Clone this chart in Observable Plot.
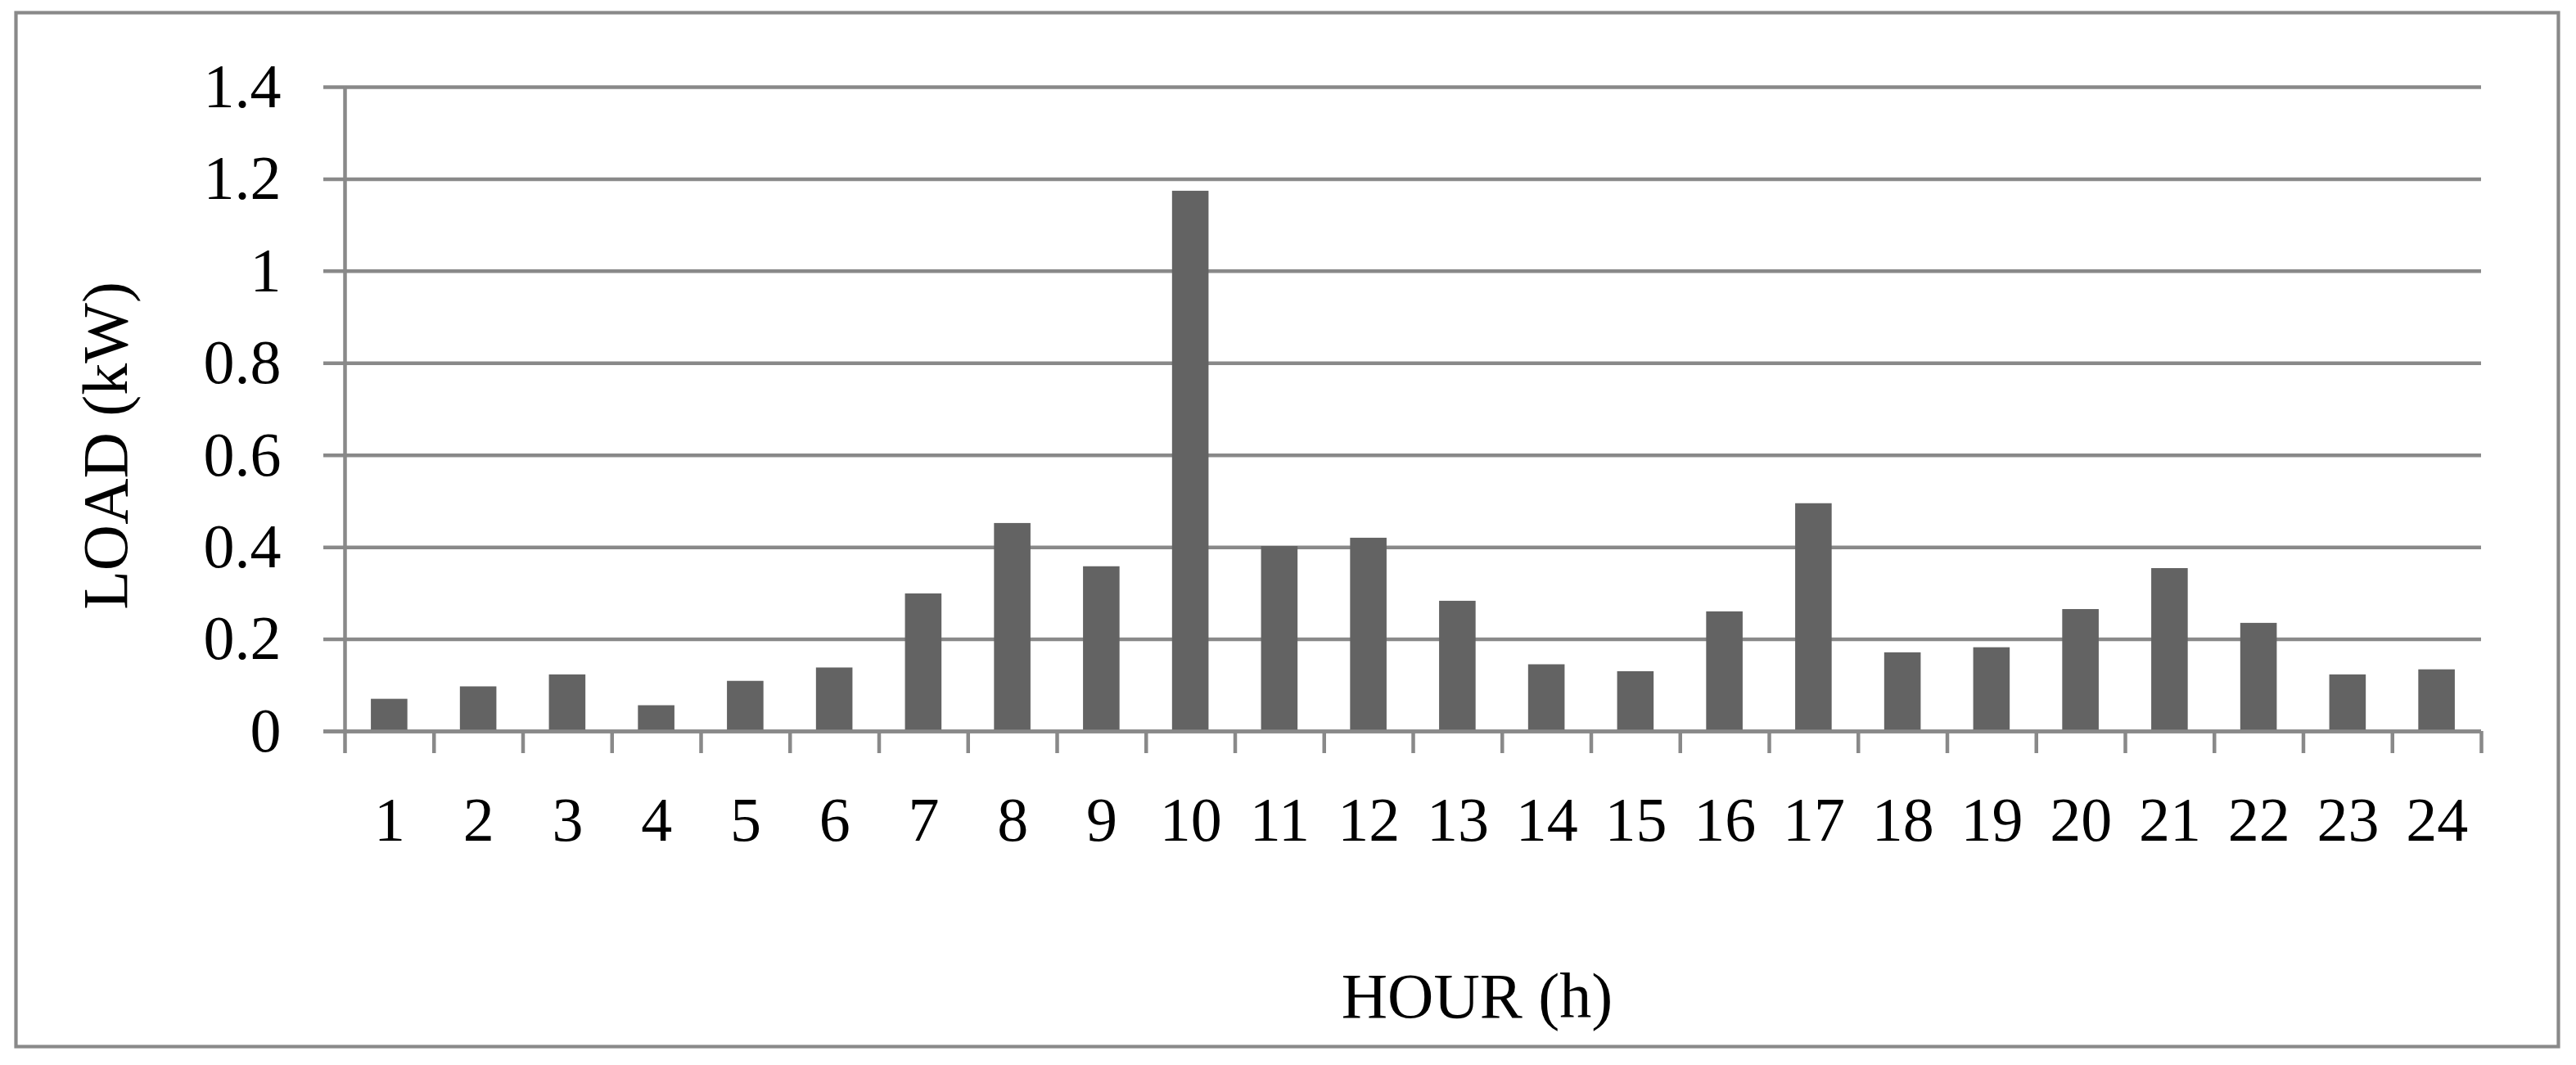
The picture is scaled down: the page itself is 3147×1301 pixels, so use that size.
<!DOCTYPE html>
<html>
<head>
<meta charset="utf-8">
<script src="https://cdn.jsdelivr.net/npm/d3@7"></script>
<script src="https://cdn.jsdelivr.net/npm/@observablehq/plot@0.6"></script>
<style>
  html, body { margin: 0; padding: 0; background: #fff; }
  #chart svg { display: block; }
</style>
</head>
<body>
<div id="chart"></div>
<script>
// ---- data ----
const hours = [1, 2, 3, 4, 5, 6, 7, 8, 9, 10, 11, 12, 13, 14, 15, 16, 17, 18, 19, 20, 21, 22, 23, 24];
const load = [0.070, 0.097, 0.123, 0.056, 0.109, 0.138, 0.299, 0.452, 0.358, 1.174, 0.402, 0.420,
              0.283, 0.145, 0.130, 0.260, 0.495, 0.171, 0.182, 0.265, 0.354, 0.235, 0.123, 0.134];
const yTicks = [0, 0.2, 0.4, 0.6, 0.8, 1, 1.2, 1.4];
const yTickLabels = ["0", "0.2", "0.4", "0.6", "0.8", "1", "1.2", "1.4"];
const xTitle = "HOUR (h)";
const yTitle = "LOAD (kW)";

// ---- layout ----
const rows = hours.map((h, i) => ({hour: h, load: load[i]}));
const W = 3147, H = 1301;
const mL = 421, mR = 116, mT = 106, mB = 408;
const step = (W - mL - mR) / hours.length;
const gridColor = "#898989";
const lw = 4.5;
const font = "'Liberation Serif', 'Times New Roman', serif";

const chart = Plot.plot({
  width: W,
  height: H,
  marginLeft: mL,
  marginRight: mR,
  marginTop: mT,
  marginBottom: mB,
  style: {fontFamily: font, fontSize: "76px", color: "#000", background: "#fff"},
  x: {type: "band", domain: hours, paddingInner: 0.59, paddingOuter: 0.295, round: false, label: null},
  y: {domain: [0, 1.4], label: null},
  marks: [
    // outer border of the chart area
    Plot.frame({stroke: gridColor, strokeWidth: 4.2,
      insetLeft: -(mL - 19), insetTop: -(mT - 15),
      insetRight: -(3125 - (W - mR)), insetBottom: -(1278 - (H - mB))}),
    // horizontal gridlines (extend left as ticks)
    Plot.ruleY(yTicks, {y: d => d, stroke: gridColor, strokeWidth: lw, insetLeft: -26}),
    // bars
    Plot.barY(rows, {x: "hour", y: "load", fill: "#636363"}),
    // vertical axis line
    Plot.ruleX([hours[0]], {x: d => d, dx: -step / 2, stroke: gridColor, strokeWidth: lw, insetBottom: -27}),
    // category boundary ticks
    Plot.ruleX(hours, {x: d => d, dx: step / 2, stroke: gridColor, strokeWidth: lw,
      insetTop: H - mT - mB, insetBottom: -27}),
    // baseline
    Plot.ruleY([0], {y: d => d, stroke: gridColor, strokeWidth: lw, insetLeft: -26}),
    // tick labels
    Plot.axisY(yTicks, {tickSize: 0, tickPadding: 78, fontSize: 76,
      tickFormat: d => yTickLabels[yTicks.indexOf(d)], label: null}),
    Plot.axisX(hours, {tickSize: 0, tickPadding: 80, fontSize: 76, label: null}),
    // axis titles
    Plot.text([xTitle], {text: d => d, frameAnchor: "bottom", textAnchor: "middle", lineAnchor: "middle",
      dx: 1804 - (mL + (W - mL - mR) / 2), dy: 325, fontSize: 78}),
    Plot.text([yTitle], {text: d => d, frameAnchor: "left", textAnchor: "middle", lineAnchor: "middle",
      rotate: -90, dx: 130 - mL, dy: 544 - (mT + (H - mT - mB) / 2), fontSize: 78})
  ]
});

document.getElementById("chart").appendChild(chart);
</script>
</body>
</html>
